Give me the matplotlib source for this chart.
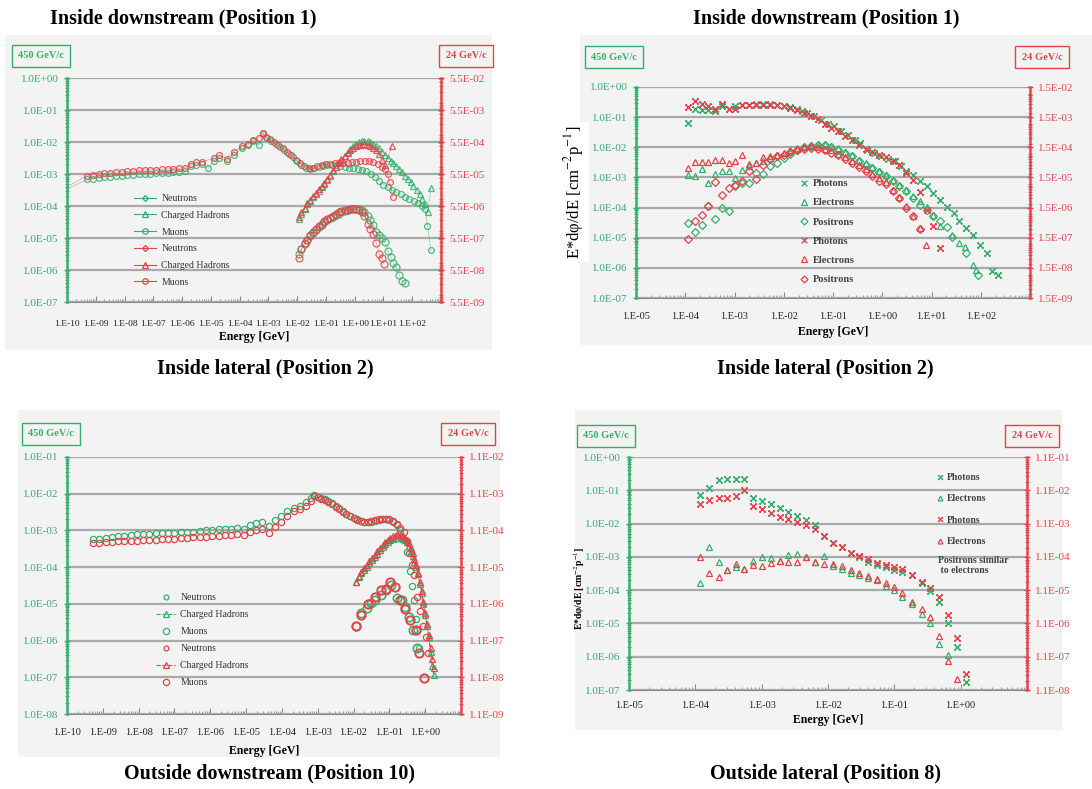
import numpy as np
import matplotlib
matplotlib.use("Agg")
import matplotlib.pyplot as plt
from matplotlib.patches import Rectangle
from matplotlib.lines import Line2D
from matplotlib.path import Path
from matplotlib.ticker import LogLocator, NullFormatter

plt.rcParams['font.family'] = ['Liberation Serif', 'DejaVu Serif']
plt.rcParams['mathtext.fontset'] = 'stix'

W, H = 1092, 789
GREEN = '#34b06b'
RED = '#e6424a'
GTXT = '#3aa870'
RTXT = '#e2474e'
GRID = '#a9a9a9'
BG = '#f3f3f3'

# serif-style "x" marker (cross with short serifs on top and bottom)
XS = Path([(-1, -1), (1, 1), (-1, 1), (1, -1), (-1.4, 1), (-0.6, 1), (0.6, 1), (1.4, 1),
           (-1.4, -1), (-0.6, -1), (0.6, -1), (1.4, -1)],
          [Path.MOVETO, Path.LINETO] * 6)

# all spectra stored as log10(E / GeV) and log10(E*dphi/dE)
# green = 450 GeV/c (left axis), red = 24 GeV/c (right axis units)

# ---------------- Inside downstream (Position 1), hadrons ----------------
p1_neu450_logE = [-10.3, -9.3, -9.1, -8.9, -8.7, -8.5, -8.3, -8.1, -7.9, -7.7, -7.5, -7.3, -7.1, -6.9, -6.7,
                  -6.5, -6.3, -6.1, -5.9, -5.7, -5.5, -5.3, -5.1, -4.9, -4.7, -4.45, -4.2, -3.9, -3.7, -3.52,
                  -3.34, -3.18, -3.05, -2.9, -2.75, -2.6, -2.45, -2.3, -2.15, -2.0, -1.85, -1.7, -1.55, -1.4,
                  -1.25, -1.1, -0.95, -0.8, -0.65, -0.5, -0.35, -0.2, -0.05, 0.1, 0.25, 0.4, 0.55, 0.7, 0.85,
                  1.0, 1.15, 1.3, 1.45, 1.6, 1.75, 1.9, 2.05, 2.2, 2.35, 2.45, 2.53, 2.65]
p1_neu450_logF = [-3.6, -3.17, -3.15, -3.12, -3.1, -3.08, -3.06, -3.05, -3.04, -3.02, -3.01, -3.0, -2.99, -2.98,
                  -2.97, -2.96, -2.95, -2.93, -2.9, -2.75, -2.72, -2.7, -2.82, -2.58, -2.5, -2.6, -2.4, -2.2,
                  -2.1, -1.98, -2.1, -1.75, -1.88, -1.96, -2.05, -2.15, -2.25, -2.36, -2.48, -2.6, -2.71, -2.8,
                  -2.84, -2.82, -2.78, -2.75, -2.73, -2.72, -2.72, -2.74, -2.77, -2.8, -2.81, -2.83, -2.87,
                  -2.92, -3.0, -3.1, -3.22, -3.33, -3.42, -3.5, -3.57, -3.64, -3.71, -3.78, -3.85, -3.92, -4.0,
                  -4.1, -4.63, -5.39]
p1_neu24_logE = [-10.3, -9.3, -9.1, -8.9, -8.7, -8.5, -8.3, -8.1, -7.9, -7.7, -7.5, -7.3, -7.1, -6.9, -6.7,
                 -6.5, -6.3, -6.1, -5.9, -5.7, -5.5, -5.3, -4.9, -4.7, -4.45, -4.2, -3.9, -3.7, -3.52, -3.34,
                 -3.18, -3.1, -2.95, -2.8, -2.65, -2.5, -2.35, -2.2, -2.05, -1.9, -1.75, -1.6, -1.45, -1.3,
                 -1.15, -1.0, -0.85, -0.7, -0.55, -0.4, -0.25, -0.1, 0.05, 0.2, 0.35, 0.5, 0.65, 0.8, 0.95,
                 1.05, 1.15, 1.22, 1.32]
p1_neu24_logF = [-4.81, -4.31, -4.28, -4.26, -4.24, -4.22, -4.2, -4.19, -4.18, -4.16, -4.15, -4.14, -4.13,
                 -4.12, -4.11, -4.1, -4.09, -4.08, -4.06, -3.94, -3.9, -3.88, -3.76, -3.68, -3.78, -3.56, -3.39,
                 -3.31, -3.21, -3.14, -2.98, -3.11, -3.18, -3.26, -3.36, -3.46, -3.56, -3.68, -3.81, -3.92,
                 -4.02, -4.08, -4.06, -4.02, -3.98, -3.96, -3.94, -3.93, -3.93, -3.93, -3.92, -3.9, -3.88,
                 -3.86, -3.84, -3.84, -3.88, -3.94, -4.04, -4.11, -4.26, -4.51, -4.98]
p1_had450_logE = [-1.94, -1.85, -1.74, -1.66, -1.55, -1.46, -1.35, -1.25, -1.15, -1.05, -0.96, -0.85, -0.74,
                  -0.66, -0.55, -0.46, -0.35, -0.25, -0.15, -0.05, 0.04, 0.15, 0.26, 0.34, 0.45, 0.54, 0.65,
                  0.75, 0.85, 0.95, 1.04, 1.15, 1.26, 1.34, 1.45, 1.54, 1.65, 1.75, 1.85, 1.95, 2.04, 2.15,
                  2.26, 2.34, 2.45, 2.54, 2.65]
p1_had450_logF = [-4.42, -4.25, -4.08, -3.95, -3.83, -3.72, -3.62, -3.52, -3.42, -3.3, -3.18, -3.05, -2.92,
                  -2.78, -2.66, -2.55, -2.43, -2.32, -2.22, -2.13, -2.06, -2.01, -1.97, -1.96, -1.97, -2.0,
                  -2.05, -2.12, -2.2, -2.3, -2.4, -2.5, -2.58, -2.66, -2.75, -2.85, -2.95, -3.05, -3.15, -3.25,
                  -3.37, -3.5, -3.63, -3.78, -3.95, -4.2, -3.43]
p1_had24_logE = [-1.94, -1.85, -1.74, -1.66, -1.55, -1.46, -1.35, -1.25, -1.15, -1.05, -0.96, -0.85, -0.74,
                 -0.66, -0.55, -0.46, -0.35, -0.25, -0.15, -0.05, 0.04, 0.15, 0.26, 0.34, 0.45, 0.54, 0.65,
                 0.75, 0.85, 0.95, 1.04, 1.3]
p1_had24_logF = [-5.61, -5.46, -5.31, -5.18, -5.06, -4.96, -4.85, -4.74, -4.64, -4.53, -4.41, -4.28, -4.15,
                 -4.03, -3.9, -3.8, -3.69, -3.6, -3.51, -3.44, -3.39, -3.36, -3.34, -3.33, -3.34, -3.38, -3.44,
                 -3.52, -3.64, -3.81, -3.98, -3.39]
p1_muo450_logE = [-1.94, -1.85, -1.74, -1.66, -1.55, -1.46, -1.35, -1.25, -1.15, -1.05, -0.96, -0.85, -0.74,
                  -0.66, -0.55, -0.46, -0.35, -0.25, -0.15, -0.05, 0.04, 0.15, 0.26, 0.34, 0.45, 0.54, 0.65,
                  0.75, 0.85, 0.95, 1.04, 1.15, 1.26, 1.34, 1.45, 1.54, 1.65, 1.75]
p1_muo450_logF = [-5.49, -5.35, -5.2, -5.07, -4.94, -4.84, -4.74, -4.66, -4.58, -4.51, -4.44, -4.39, -4.34,
                  -4.28, -4.24, -4.2, -4.16, -4.12, -4.1, -4.08, -4.08, -4.1, -4.14, -4.18, -4.3, -4.45, -4.6,
                  -4.8, -4.9, -5.0, -5.12, -5.4, -5.6, -5.77, -5.92, -6.15, -6.35, -6.4]
p1_muo24_logE = [-1.94, -1.85, -1.74, -1.66, -1.55, -1.46, -1.35, -1.25, -1.15, -1.05, -0.96, -0.85, -0.74,
                 -0.66, -0.55, -0.46, -0.35, -0.25, -0.15, -0.05, 0.04, 0.15, 0.26, 0.34, 0.45, 0.54, 0.65,
                 0.75, 0.85, 0.95, 1.01]
p1_muo24_logF = [-6.9, -6.61, -6.41, -6.31, -6.18, -6.08, -5.98, -5.9, -5.82, -5.74, -5.68, -5.62, -5.56,
                 -5.51, -5.46, -5.42, -5.39, -5.37, -5.35, -5.34, -5.35, -5.38, -5.46, -5.56, -5.81, -5.98,
                 -6.14, -6.41, -6.76, -6.9, -7.06]

# ---------------- Inside downstream (Position 1), e/gamma ----------------
p2_grid_logE = [-3.95, -3.81, -3.67, -3.53, -3.39, -3.25, -3.12, -2.98, -2.84, -2.7, -2.56, -2.42, -2.28,
                -2.14, -2.0, -1.87, -1.73, -1.59, -1.45, -1.31, -1.17, -1.04, -0.9, -0.76, -0.62, -0.48,
                -0.34, -0.2, -0.07, 0.07, 0.21, 0.35, 0.49, 0.63, 0.77]
p2_gam450_logE = [-3.95, -3.81, -3.67, -3.53, -3.39, -3.25, -3.12, -2.98, -2.84, -2.7, -2.56, -2.42, -2.28,
                  -2.14, -2.0, -1.87, -1.73, -1.63, -1.52, -1.38, -1.24, -1.1, -0.97, -0.83, -0.69, -0.55,
                  -0.45, -0.31, -0.17, -0.03, 0.11, 0.25, 0.38, 0.49, 0.63, 0.77, 0.9, 1.04, 1.18, 1.31,
                  1.45, 1.56, 1.7, 1.84, 1.98, 2.12, 2.22, 2.36]
p2_gam450_logF = [-1.19, -0.72, -0.75, -0.75, -0.81, -0.64, -0.72, -0.64, -0.61, -0.59, -0.56, -0.56, -0.56,
                  -0.59, -0.62, -0.67, -0.72, -0.79, -0.86, -0.95, -1.08, -1.23, -1.31, -1.47, -1.58, -1.75,
                  -1.86, -2.08, -2.19, -2.3, -2.38, -2.47, -2.63, -2.8, -2.91, -3.13, -3.3, -3.52, -3.74,
                  -3.99, -4.18, -4.46, -4.68, -4.9, -5.25, -5.51, -6.12, -6.25]
p2_gam24_logE = [-3.95, -3.81, -3.67, -3.53, -3.39, -3.25, -3.12, -2.98, -2.84, -2.7, -2.56, -2.42, -2.28,
                 -2.14, -2.0, -1.87, -1.73, -1.59, -1.45, -1.31, -1.17, -1.04, -0.9, -0.76, -0.62, -0.48,
                 -0.34, -0.2, -0.07, 0.07, 0.21, 0.35, 0.49, 0.63, 0.77, 0.9, 1.04, 1.18]
p2_gam24_logF = [-2.49, -2.3, -2.38, -2.46, -2.54, -2.38, -2.54, -2.54, -2.41, -2.41, -2.41, -2.41, -2.41,
                 -2.43, -2.46, -2.52, -2.59, -2.68, -2.78, -2.9, -3.04, -3.17, -3.3, -3.44, -3.58, -3.74,
                 -3.88, -3.98, -4.07, -4.16, -4.27, -4.42, -4.67, -4.92, -5.32, -5.92, -6.42, -7.16]
p2_ele450_logE = [-3.95, -3.81, -3.67, -3.53, -3.39, -3.25, -3.12, -2.98, -2.84, -2.7, -2.56, -2.42, -2.28,
                  -2.14, -2.0, -1.87, -1.73, -1.59, -1.45, -1.31, -1.17, -1.04, -0.9, -0.76, -0.62, -0.48,
                  -0.34, -0.2, -0.07, 0.07, 0.21, 0.35, 0.49, 0.63, 0.77, 0.9, 1.03, 1.17, 1.42, 1.56, 1.68,
                  1.84, 1.9]
p2_ele450_logF = [-2.91, -2.96, -2.71, -3.19, -2.89, -2.78, -2.78, -3.02, -2.74, -2.63, -2.52, -2.44, -2.36,
                  -2.27, -2.19, -2.11, -2.02, -1.97, -1.91, -1.89, -1.89, -1.95, -2.02, -2.16, -2.27, -2.41,
                  -2.52, -2.67, -2.78, -2.93, -3.08, -3.24, -3.41, -3.63, -3.79, -3.99, -4.24, -4.62, -4.9,
                  -5.18, -5.32, -5.9, -6.06]
p2_pos450_logE = [-3.95, -3.81, -3.67, -3.53, -3.39, -3.25, -3.12, -2.98, -2.84, -2.7, -2.56, -2.42, -2.28,
                  -2.14, -2.0, -1.87, -1.73, -1.59, -1.45, -1.31, -1.17, -1.04, -0.9, -0.76, -0.62, -0.48,
                  -0.34, -0.2, -0.07, 0.07, 0.21, 0.35, 0.49, 0.63, 0.77, 0.9, 1.03, 1.17, 1.31, 1.42, 1.7,
                  1.95]
p2_pos450_logF = [-4.51, -4.81, -4.59, -3.96, -4.37, -4.02, -4.13, -3.3, -3.19, -3.19, -2.85, -2.89, -2.63,
                  -2.52, -2.36, -2.23, -2.08, -2.0, -1.95, -1.91, -1.94, -2.0, -2.08, -2.19, -2.3, -2.44,
                  -2.58, -2.69, -2.82, -2.96, -3.13, -3.3, -3.46, -3.68, -3.9, -4.07, -4.29, -4.46, -4.66,
                  -4.96, -5.51, -6.23]
p2_ele24_logE = [-3.95, -3.81, -3.67, -3.53, -3.39, -3.25, -3.12, -2.98, -2.84, -2.7, -2.56, -2.42, -2.28,
                 -2.14, -2.0, -1.87, -1.73, -1.59, -1.45, -1.31, -1.17, -1.04, -0.9, -0.76, -0.62, -0.48,
                 -0.34, -0.2, -0.07, 0.07, 0.21, 0.35, 0.49, 0.63, 0.77, 0.89]
p2_ele24_logF = [-4.51, -4.31, -4.31, -4.31, -4.23, -4.26, -4.34, -4.29, -4.09, -4.38, -4.34, -4.16, -4.12,
                 -4.09, -4.01, -3.93, -3.88, -3.82, -3.79, -3.82, -3.87, -3.93, -4.04, -4.15, -4.29, -4.42,
                 -4.56, -4.71, -4.84, -4.97, -5.23, -5.48, -5.78, -6.11, -6.5, -7.07]
p2_pos24_logF = [-6.85, -6.26, -6.06, -5.78, -4.97, -5.42, -5.19, -5.06, -4.93, -4.62, -4.86, -4.42, -4.2,
                 -4.12, -4.07, -3.98, -3.92, -3.87, -3.84, -3.88, -3.93, -4.01, -4.09, -4.2, -4.34, -4.49,
                 -4.62, -4.78, -4.93, -5.04, -5.28, -5.5, -5.84, -6.11, -6.55]

# ---------------- Outside downstream (Position 10), hadrons ----------------
p3_neu450_logE = [-9.27, -9.1, -8.92, -8.75, -8.57, -8.4, -8.22, -8.05, -7.87, -7.7, -7.52, -7.35, -7.17,
                  -7.0, -6.82, -6.65, -6.47, -6.3, -6.12, -5.95, -5.77, -5.6, -5.42, -5.25, -5.07, -4.9,
                  -4.72, -4.55, -4.37, -4.2, -4.02, -3.85, -3.67, -3.5, -3.32, -3.2, -3.1, -3.0, -2.9, -2.8,
                  -2.7, -2.6, -2.5, -2.4, -2.3, -2.2, -2.1, -2.0, -1.9, -1.8, -1.7, -1.6, -1.5, -1.4, -1.3,
                  -1.2, -1.1, -1.0, -0.9, -0.8, -0.7, -0.6, -0.5, -0.42, -0.36, -0.3, -0.26, -0.22, -0.18]
p3_neu450_logF = [-3.24, -3.22, -3.2, -3.18, -3.16, -3.14, -3.12, -3.1, -3.1, -3.09, -3.08, -3.08, -3.07,
                  -3.06, -3.05, -3.04, -3.03, -3.02, -3.0, -2.99, -2.97, -2.96, -2.95, -2.93, -2.96, -2.86,
                  -2.8, -2.76, -2.88, -2.72, -2.6, -2.48, -2.38, -2.33, -2.22, -2.12, -2.04, -2.08, -2.12,
                  -2.15, -2.2, -2.26, -2.33, -2.4, -2.47, -2.54, -2.6, -2.65, -2.7, -2.74, -2.77, -2.78,
                  -2.76, -2.73, -2.71, -2.7, -2.7, -2.72, -2.78, -2.86, -2.98, -3.25, -3.6, -4.1, -4.5, -4.9,
                  -5.4, -5.7, -6.2]
p3_neu24_logE = [-9.27, -9.1, -8.92, -8.75, -8.57, -8.4, -8.22, -8.05, -7.87, -7.7, -7.52, -7.35, -7.17,
                 -7.0, -6.82, -6.65, -6.47, -6.3, -6.12, -5.95, -5.77, -5.6, -5.42, -5.25, -5.07, -4.9, -4.72,
                 -4.55, -4.37, -4.2, -4.02, -3.85, -3.67, -3.5, -3.32, -3.2, -3.1, -3.0, -2.9, -2.8, -2.7,
                 -2.6, -2.5, -2.4, -2.3, -2.2, -2.1, -2.0, -1.9, -1.8, -1.7, -1.6, -1.5, -1.4, -1.3, -1.2,
                 -1.1, -1.0, -0.9, -0.8, -0.7, -0.6, -0.52, -0.45, -0.38, -0.3, -0.22, -0.14, -0.06, 0.02,
                 0.08]
p3_neu24_logF = [-4.3, -4.29, -4.28, -4.27, -4.26, -4.25, -4.24, -4.24, -4.23, -4.22, -4.21, -4.2, -4.19,
                 -4.18, -4.17, -4.16, -4.15, -4.14, -4.13, -4.12, -4.11, -4.09, -4.08, -4.06, -4.08, -4.01,
                 -3.96, -3.93, -4.03, -3.86, -3.73, -3.56, -3.44, -3.38, -3.3, -3.16, -3.02, -3.06, -3.1,
                 -3.13, -3.18, -3.24, -3.31, -3.38, -3.45, -3.51, -3.57, -3.62, -3.67, -3.71, -3.74, -3.74,
                 -3.71, -3.68, -3.66, -3.65, -3.65, -3.66, -3.71, -3.78, -3.88, -4.01, -4.26, -4.56, -4.91,
                 -5.16, -5.76, -6.16, -6.56, -6.86, -7.31]
p3_had_logE = [-1.93, -1.85, -1.78, -1.7, -1.63, -1.56, -1.49, -1.41, -1.34, -1.27, -1.19, -1.12, -1.05,
               -0.97, -0.9, -0.82, -0.75, -0.68, -0.61, -0.55, -0.5, -0.45, -0.4, -0.35, -0.3, -0.25, -0.2,
               -0.15, -0.1, -0.05, 0.0, 0.05, 0.1, 0.15, 0.2, 0.24]
p3_had450_logF = [-4.4, -4.28, -4.17, -4.08, -3.99, -3.9, -3.81, -3.72, -3.63, -3.54, -3.45, -3.38, -3.32,
                  -3.27, -3.23, -3.2, -3.2, -3.2, -3.22, -3.26, -3.32, -3.42, -3.55, -3.7, -3.85, -4.0, -4.2,
                  -4.45, -4.7, -5.0, -5.3, -5.6, -5.9, -6.3, -6.7, -6.94]
p3_had24_logF = [-5.36, -5.21, -5.08, -4.98, -4.89, -4.8, -4.71, -4.62, -4.53, -4.44, -4.35, -4.28, -4.22,
                 -4.16, -4.12, -4.09, -4.08, -4.09, -4.12, -4.16, -4.22, -4.31, -4.44, -4.58, -4.74, -4.91,
                 -5.11, -5.36, -5.61, -5.91, -6.21, -6.51, -6.81, -7.16, -7.46, -7.71]
p3_muo450_logE = [-1.93, -1.78, -1.63, -1.5, -1.39, -1.24, -1.1, -0.95, -0.8, -0.66, -0.56, -0.46, -0.33, -0.22]
p3_muo450_logF = [-5.61, -5.26, -5.1, -4.99, -4.9, -4.76, -4.63, -4.49, -4.85, -4.9, -5.08, -5.35, -5.71, -6.21]
p3_muo24_logE = [-1.93, -1.78, -1.59, -1.39, -1.24, -1.1, -0.98, -0.85, -0.7, -0.55, -0.41, -0.26, -0.17, -0.04]
p3_muo24_logF = [-6.57, -6.26, -5.95, -5.77, -5.59, -5.56, -5.36, -5.5, -5.86, -6.11, -6.4, -6.67, -7.31, -7.99]

# ---------------- Outside lateral (Position 8), e/gamma ----------------
p4_logE = [-3.93, -3.79, -3.65, -3.52, -3.39, -3.26, -3.13, -3.0, -2.86, -2.73, -2.6, -2.46, -2.33, -2.19,
           -2.06, -1.93, -1.79, -1.66, -1.53, -1.4, -1.26, -1.13, -1.01, -0.88, -0.73, -0.59, -0.46, -0.32,
           -0.19, -0.05, 0.08]
p4_gam450_logF = [-1.15, -0.92, -0.68, -0.67, -0.65, -0.67, -1.22, -1.32, -1.4, -1.53, -1.65, -1.77, -1.89,
                  -2.04, -2.37, -2.57, -2.71, -2.89, -2.99, -3.14, -3.24, -3.29, -3.39, -3.44, -3.54, -3.79,
                  -4.04, -4.37, -4.99, -5.7, -6.76]
p4_gam24_logF = [-2.36, -2.26, -2.18, -2.18, -2.14, -1.96, -2.44, -2.53, -2.63, -2.75, -2.83, -2.91, -3.01,
                 -3.12, -3.33, -3.53, -3.67, -3.85, -3.93, -4.03, -4.15, -4.2, -4.25, -4.33, -4.5, -4.7, -4.9,
                 -5.15, -5.7, -6.39, -7.49]
p4_ele450_logF = [-3.79, -2.71, -3.14, -3.39, -3.31, -3.37, -3.11, -2.99, -3.04, -3.11, -2.94, -2.91, -2.99,
                  -3.14, -2.97, -3.27, -3.37, -3.49, -3.54, -3.64, -3.71, -3.89, -3.99, -4.21, -4.41, -4.71,
                  -4.99, -5.63, -5.96]
p4_ele24_logF = [-3.97, -4.43, -4.55, -4.35, -4.17, -4.33, -4.2, -4.23, -4.13, -4.07, -4.1, -4.1, -3.97, -4.1,
                 -4.17, -4.17, -4.23, -4.35, -4.43, -4.53, -4.63, -4.75, -4.85, -5.03, -5.3, -5.53, -5.77,
                 -6.34, -7.09, -7.62]

# axis ticks and labels
dec_E_a = [1e-10, 1e-9, 1e-8, 1e-7, 1e-6, 1e-5, 1e-4, 1e-3, 1e-2, 1e-1, 1e0, 1e1, 1e2]
dec_E_a_lab = ["1.E-10", "1.E-09", "1.E-08", "1.E-07", "1.E-06", "1.E-05", "1.E-04", "1.E-03", "1.E-02",
               "1.E-01", "1.E+00", "1.E+01", "1.E+02"]
dec_E_b = [1e-5, 1e-4, 1e-3, 1e-2, 1e-1, 1e0, 1e1, 1e2]
dec_E_b_lab = ["1.E-05", "1.E-04", "1.E-03", "1.E-02", "1.E-01", "1.E+00", "1.E+01", "1.E+02"]
flux_a = [1e0, 1e-1, 1e-2, 1e-3, 1e-4, 1e-5, 1e-6, 1e-7]
flux_a_lab = ["1.0E+00", "1.0E-01", "1.0E-02", "1.0E-03", "1.0E-04", "1.0E-05", "1.0E-06", "1.0E-07"]
flux_b = [1e-1, 1e-2, 1e-3, 1e-4, 1e-5, 1e-6, 1e-7, 1e-8]
flux_b_lab = ["1.0E-01", "1.0E-02", "1.0E-03", "1.0E-04", "1.0E-05", "1.0E-06", "1.0E-07", "1.0E-08"]
r1 = [5.5e-2, 5.5e-3, 5.5e-4, 5.5e-5, 5.5e-6, 5.5e-7, 5.5e-8, 5.5e-9]
r1_lab = ["5.5E-02", "5.5E-03", "5.5E-04", "5.5E-05", "5.5E-06", "5.5E-07", "5.5E-08", "5.5E-09"]
r2 = [1.5e-2, 1.5e-3, 1.5e-4, 1.5e-5, 1.5e-6, 1.5e-7, 1.5e-8, 1.5e-9]
r2_lab = ["1.5E-02", "1.5E-03", "1.5E-04", "1.5E-05", "1.5E-06", "1.5E-07", "1.5E-08", "1.5E-09"]
r3 = [1.1e-2, 1.1e-3, 1.1e-4, 1.1e-5, 1.1e-6, 1.1e-7, 1.1e-8, 1.1e-9]
r3_lab = ["1.1E-02", "1.1E-03", "1.1E-04", "1.1E-05", "1.1E-06", "1.1E-07", "1.1E-08", "1.1E-09"]
r4 = [1.1e-1, 1.1e-2, 1.1e-3, 1.1e-4, 1.1e-5, 1.1e-6, 1.1e-7, 1.1e-8]
r4_lab = ["1.1E-01", "1.1E-02", "1.1E-03", "1.1E-04", "1.1E-05", "1.1E-06", "1.1E-07", "1.1E-08"]

YLABEL = "E*dφ/dE [cm$^{-2}$p$^{-1}$]"

fig = plt.figure(figsize=(W / 100, H / 100), dpi=100)


def fx(px):
    return px / W


def fy(py):
    return 1 - py / H


def backdrop(x0, y0, x1, y1):
    fig.patches.append(Rectangle((fx(x0), fy(y1)), (x1 - x0) / W, (y1 - y0) / H,
                                 transform=fig.transFigure, fc=BG, ec='none', zorder=-10))


def panel(box, xlim, ylim, rlim, xt, xtl, lt, ltl, rt, rtl, xpad, lpad, xsize=7.5):
    x0, y0, x1, y1 = box
    ax = fig.add_axes([fx(x0), fy(y1), (x1 - x0) / W, (y1 - y0) / H])
    ax.set_xscale('log')
    ax.set_yscale('log')
    ax.set_xlim(*xlim)
    ax.set_ylim(*ylim)
    ax.patch.set_visible(False)
    ax.set_xticks(xt, xtl)
    ax.set_yticks(lt, ltl)
    for a in (ax.xaxis, ax.yaxis):
        a.set_minor_locator(LogLocator(base=10, subs=np.arange(2, 10), numticks=40))
        a.set_minor_formatter(NullFormatter())
    ax.tick_params(axis='x', which='both', direction='in', colors='#8a8a8a', labelcolor='#222222',
                   labelsize=xsize, pad=xpad)
    ax.tick_params(axis='x', which='major', length=4)
    ax.tick_params(axis='x', which='minor', length=2)
    ax.tick_params(axis='y', which='both', direction='inout', colors=GREEN, labelcolor=GTXT, labelsize=8)
    ax.tick_params(axis='y', which='major', length=5, width=1)
    ax.tick_params(axis='y', which='minor', length=3, width=0.7)
    ax.grid(axis='y', which='major', color=GRID, lw=1.6)
    ax.set_axisbelow(True)
    ax.spines['left'].set_color(GREEN)
    ax.spines['left'].set_linewidth(1.8)
    ax.spines['bottom'].set_color('#8a8a8a')
    ax.spines['top'].set_visible(False)
    ax.spines['right'].set_visible(False)

    axr = ax.twinx()
    axr.set_yscale('log')
    axr.set_ylim(*rlim)
    axr.set_yticks(rt, rtl)
    axr.yaxis.set_minor_locator(LogLocator(base=10, subs=np.arange(2, 10), numticks=40))
    axr.yaxis.set_minor_formatter(NullFormatter())
    axr.tick_params(axis='y', which='both', direction='inout', colors=RED, labelcolor=RTXT, labelsize=8)
    axr.tick_params(axis='y', which='major', length=5, width=1)
    axr.tick_params(axis='y', which='minor', length=3, width=0.7)
    for s in ('left', 'top', 'bottom'):
        axr.spines[s].set_visible(False)
    axr.spines['right'].set_color(RED)
    axr.spines['right'].set_linewidth(1.8)
    ax.set_xlabel('Energy [GeV]', fontsize=8.5, fontweight='bold', labelpad=lpad)
    return ax, axr


def pts(ax, le, lf, color, marker, ms, ls='none', lw=0.7, mew=0.9, alpha=1.0):
    ax.plot(10.0 ** np.asarray(le), 10.0 ** np.asarray(lf), ls=ls, lw=lw, color=color, marker=marker,
            ms=ms, mew=mew, mfc='none', mec=color, alpha=alpha)


def trail(ax, le, lf, color, ls='-', lw=0.6, alpha=0.45):
    ax.plot(10.0 ** np.asarray(le), 10.0 ** np.asarray(lf), ls=ls, lw=lw, color=color, alpha=alpha)


def tag(px, py, text, color):
    fig.text(fx(px), fy(py), text, color=color, fontsize=7.5, fontweight='bold', ha='center', va='center',
             bbox=dict(boxstyle='square,pad=0.6', fc='none', ec=color, lw=1.0))


def handle(color, marker, ms, ls='none', lw=0.8):
    return Line2D([], [], color=color, marker=marker, ms=ms, mfc='none', mec=color, mew=0.9, ls=ls, lw=lw)


# panel backgrounds
backdrop(5, 35, 492, 350)
backdrop(580, 35, 1092, 345)
backdrop(18, 410, 500, 757)
backdrop(575, 410, 1062, 730)

# titles
for (tx, ty, t) in [(183, 18, "Inside downstream (Position 1)"), (826, 18, "Inside downstream (Position 1)"),
                    (265, 368, "Inside lateral (Position 2)"), (825, 368, "Inside lateral (Position 2)"),
                    (269, 773, "Outside downstream (Position 10)"), (825, 773, "Outside lateral (Position 8)")]:
    fig.text(fx(tx), fy(ty), t, ha='center', va='center', fontsize=14.5, fontweight='bold')

# ---- panel 1 ----
ax, axr = panel((67, 78, 441, 302), (1e-10, 1e3), (1e-7, 1e0), (5.5e-9, 5.5e-2),
                dec_E_a, dec_E_a_lab, flux_a, flux_a_lab, r1, r1_lab, 13, 1.8, xsize=6.8)
for le, lf in [(p1_neu450_logE, p1_neu450_logF), (p1_had450_logE, p1_had450_logF),
               (p1_muo450_logE, p1_muo450_logF)]:
    trail(ax, le, lf, GREEN)
for le, lf in [(p1_neu24_logE, p1_neu24_logF), (p1_had24_logE, p1_had24_logF),
               (p1_muo24_logE, p1_muo24_logF)]:
    trail(axr, le, lf, RED)
pts(ax, p1_neu450_logE, p1_neu450_logF, GREEN, 'o', 4.2, alpha=0.85)
pts(ax, p1_had450_logE, p1_had450_logF, GREEN, '^', 4.5, alpha=0.85)
pts(ax, p1_muo450_logE, p1_muo450_logF, GREEN, 'o', 5.0, alpha=0.85)
pts(axr, p1_neu24_logE, p1_neu24_logF, RED, 'o', 4.2, alpha=0.85)
pts(axr, p1_had24_logE, p1_had24_logF, RED, '^', 4.5, alpha=0.85)
pts(axr, p1_muo24_logE, p1_muo24_logF, RED, 'o', 5.0, alpha=0.85)
hs = [handle(GREEN, 'D', 3, '-'), handle(GREEN, '^', 4, '-'), handle(GREEN, 'o', 4, '-'),
      handle(RED, 'D', 3, '-'), handle(RED, '^', 4, '-'), handle(RED, 'o', 4, '-')]
axr.legend(hs, ["Neutrons", "Charged Hadrons", "Muons", "Neutrons", "Charged Hadrons", "Muons"],
           loc='upper left', bbox_to_anchor=(fx(134), fy(194)), bbox_transform=fig.transFigure,
           frameon=False, fontsize=7, labelcolor='#333333', handlelength=2.3, handletextpad=0.5,
           labelspacing=0.8, borderpad=0, borderaxespad=0)
tag(41, 56, "450 GeV/c", GREEN)
tag(466, 56, "24 GeV/c", RED)

# ---- panel 2 ----
ax, axr = panel((636, 87, 1030, 298), (1e-5, 1e3), (1e-7, 1e0), (1.5e-9, 1.5e-2),
                dec_E_b, dec_E_b_lab, flux_a, flux_a_lab, r2, r2_lab, 10.3, 3.5)
pts(ax, p2_gam450_logE, p2_gam450_logF, GREEN, XS, 5.0, mew=1.1)
pts(ax, p2_ele450_logE, p2_ele450_logF, GREEN, '^', 4.5)
pts(ax, p2_pos450_logE, p2_pos450_logF, GREEN, 'D', 4.0)
pts(axr, p2_gam24_logE, p2_gam24_logF, RED, XS, 5.0, mew=1.1)
pts(axr, p2_ele24_logE, p2_ele24_logF, RED, '^', 4.5)
pts(axr, p2_grid_logE, p2_pos24_logF, RED, 'D', 4.0)
hs = [handle(GREEN, XS, 4.5), handle(GREEN, '^', 4), handle(GREEN, 'D', 3.5),
      handle(RED, XS, 4.5), handle(RED, '^', 4), handle(RED, 'D', 3.5)]
axr.legend(hs, ["Photons", "Electrons", "Positrons", "Photons", "Electrons", "Positrons"],
           loc='upper left', bbox_to_anchor=(fx(800), fy(179)), bbox_transform=fig.transFigure,
           frameon=False, prop=dict(size=7.5, weight='bold'), labelcolor='#444444', handlelength=0.8,
           handletextpad=0.4, labelspacing=0.95, borderpad=0, borderaxespad=0)
fig.text(fx(574), fy(192), YLABEL, rotation=90, ha='center', va='center', fontsize=12,
         bbox=dict(fc='white', ec='none', pad=2))
tag(614, 57, "450 GeV/c", GREEN)
tag(1042, 57, "24 GeV/c", RED)

# ---- panel 3 ----
ax, axr = panel((67, 457, 461, 714), (1e-10, 1e1), (1e-8, 1e-1), (1.1e-9, 1.1e-2),
                dec_E_a[:11], dec_E_a_lab[:11], flux_b, flux_b_lab, r3, r3_lab, 10.3, 5.5)
pts(ax, p3_neu450_logE, p3_neu450_logF, GREEN, 'o', 4.5)
pts(ax, p3_had_logE, p3_had450_logF, GREEN, '^', 4.5, ls='--', lw=0.8)
pts(ax, p3_muo450_logE, p3_muo450_logF, GREEN, 'o', 6.0, mew=1.2)
pts(axr, p3_neu24_logE, p3_neu24_logF, RED, 'o', 4.5)
pts(axr, p3_had_logE, p3_had24_logF, RED, '^', 4.5, ls='--', lw=0.8)
pts(axr, p3_muo24_logE, p3_muo24_logF, RED, 'o', 6.0, mew=1.4)
hs = [handle(GREEN, 'o', 3.5), handle(GREEN, '^', 4, '--'), handle(GREEN, 'o', 4.5),
      handle(RED, 'o', 3.5), handle(RED, '^', 4, '--'), handle(RED, 'o', 4.5)]
axr.legend(hs, ["Neutrons", "Charged Hadrons", "Muons", "Neutrons", "Charged Hadrons", "Muons"],
           loc='upper left', bbox_to_anchor=(fx(156), fy(593)), bbox_transform=fig.transFigure,
           frameon=False, fontsize=7, labelcolor='#333333', handlelength=2.0, handletextpad=0.5,
           labelspacing=0.83, borderpad=0, borderaxespad=0)
tag(51, 434, "450 GeV/c", GREEN)
tag(468, 434, "24 GeV/c", RED)

# ---- panel 4 ----
ax, axr = panel((629, 457, 1027, 690), (1e-5, 1e1), (1e-7, 1e0), (1.1e-8, 1.1e-1),
                dec_E_b[:6], dec_E_b_lab[:6], flux_a, flux_a_lab, r4, r4_lab, 8, 2.5)
pts(ax, p4_logE, p4_gam450_logF, GREEN, XS, 5.0, mew=1.1)
pts(ax, p4_logE[:29], p4_ele450_logF, GREEN, '^', 4.5)
pts(axr, p4_logE, p4_gam24_logF, RED, XS, 5.0, mew=1.1)
pts(axr, p4_logE[:30], p4_ele24_logF, RED, '^', 4.5)
hs = [handle(GREEN, XS, 4), handle(GREEN, '^', 3.5), handle(RED, XS, 4), handle(RED, '^', 3.5)]
axr.legend(hs, ["Photons", "Electrons", "Photons", "Electrons"],
           loc='upper left', bbox_to_anchor=(fx(937), fy(473)), bbox_transform=fig.transFigure,
           frameon=False, prop=dict(size=7, weight='bold'), labelcolor='#444444', handlelength=0.6,
           handletextpad=0.4, labelspacing=1.27, borderpad=0, borderaxespad=0)
fig.text(fx(938), fy(556), "Positrons similar\n to electrons", fontsize=7, fontweight='bold',
         color='#444444', ha='left', va='top', linespacing=1.1)
fig.text(fx(579), fy(588), YLABEL, rotation=90, ha='center', va='center', fontsize=7, fontweight='bold')
tag(606, 436, "450 GeV/c", GREEN)
tag(1032, 436, "24 GeV/c", RED)

fig.savefig("out.png", dpi=100, facecolor='white')
